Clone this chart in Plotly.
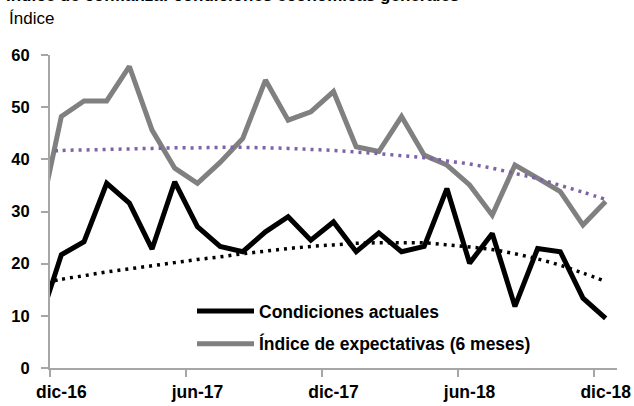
import plotly.graph_objects as go

# ---- data ----
months = ["nov-16", "dic-16", "ene-17", "feb-17", "mar-17", "abr-17", "may-17",
          "jun-17", "jul-17", "ago-17", "sep-17", "oct-17", "nov-17", "dic-17",
          "ene-18", "feb-18", "mar-18", "abr-18", "may-18", "jun-18", "jul-18",
          "ago-18", "sep-18", "oct-18", "nov-18", "dic-18"]
actuales = [8.3, 21.7, 24.2, 35.4, 31.6, 22.8, 35.7, 27.1, 23.3, 22.3, 26.1,
            29.0, 24.5, 28.0, 22.3, 25.9, 22.3, 23.3, 34.4, 20.1, 25.8, 11.8,
            22.9, 22.3, 13.4, 9.5]
expectativas = [27.8, 48.2, 51.2, 51.2, 57.8, 45.6, 38.3, 35.4, 39.4, 44.0,
                55.2, 47.5, 49.1, 53.0, 42.4, 41.5, 48.2, 40.8, 38.9, 35.1,
                29.3, 38.9, 36.4, 33.8, 27.4, 31.9]
# polynomial trend lines as drawn in the reference (read per month)
tendencia_act = [16.0, 17.0, 17.7, 18.4, 19.0, 19.6, 20.2, 20.8, 21.3, 21.9,
                 22.4, 22.9, 23.3, 23.6, 23.9, 24.0, 24.0, 24.0, 23.6, 23.2,
                 22.7, 21.9, 20.9, 19.7, 18.2, 16.6]
tendencia_exp = [41.4, 41.7, 41.8, 41.9, 42.0, 42.1, 42.2, 42.2, 42.3, 42.3,
                 42.2, 42.1, 41.9, 41.7, 41.4, 41.1, 40.7, 40.3, 39.7, 39.1,
                 38.3, 37.3, 36.3, 35.0, 33.7, 32.3]
tick_labels = ["dic-16", "jun-17", "dic-17", "jun-18", "dic-18"]
y_ticks = [0, 10, 20, 30, 40, 50, 60]
name_act = "Condiciones actuales"
name_exp = "Índice de expectativas (6 meses)"
title_text = "Índice de confianza: condiciones económicas generales"

# ---- layout constants ----
W, H = 634, 406
L, R, T, B = 50, 17, 55, 38
PW, PH = W - L - R, H - T - B
FONT = "Liberation Sans, Arial, sans-serif"
AXC = "#a6a6a6"

def px_x(p):
    return (p - L) / PW

def px_y(p):
    return 1 - (p - T) / PH

x = list(range(len(months)))
tickvals = [months.index(t) for t in tick_labels]
minor_vals = [v - 0.5 for v in tickvals]

fig = go.Figure()
fig.add_trace(go.Scatter(x=x, y=actuales, mode="lines", name=name_act,
                         legendgroup="a",
                         line=dict(color="#000000", width=5)))
fig.add_trace(go.Scatter(x=x, y=expectativas, mode="lines", name=name_exp,
                         legendgroup="b",
                         line=dict(color="#808080", width=5)))
fig.add_trace(go.Scatter(x=x, y=tendencia_act, mode="lines", showlegend=False,
                         line=dict(color="#000000", width=3.5, dash="3px,5px",
                                   shape="spline", smoothing=1)))
fig.add_trace(go.Scatter(x=x, y=tendencia_exp, mode="lines", showlegend=False,
                         line=dict(color="#7f62a6", width=3.5, dash="3px,5px",
                                   shape="spline", smoothing=1)))

fig.update_layout(
    width=W, height=H,
    margin=dict(l=L, r=R, t=T, b=B, autoexpand=False),
    paper_bgcolor="white", plot_bgcolor="white",
    font=dict(family=FONT, color="#000000"),
    legend=dict(x=px_x(192), y=px_y(293), xanchor="left", yanchor="top",
                bgcolor="rgba(0,0,0,0)", itemwidth=57, tracegroupgap=7,
                font=dict(size=17.5, family=FONT, weight="bold")),
    xaxis=dict(range=[tickvals[0] - 0.5, x[-1] + 0.5], showgrid=False, zeroline=False,
               automargin=False,
               showline=True, linecolor=AXC, linewidth=2,
               tickmode="array", tickvals=tickvals, ticktext=tick_labels,
               ticks="", ticklabelstandoff=7,
               tickfont=dict(size=17.5, family=FONT, weight="bold"),
               minor=dict(tickmode="array", tickvals=minor_vals, ticks="outside",
                          ticklen=7, tickwidth=2, tickcolor=AXC)),
    yaxis=dict(range=[0, 60], showgrid=False, zeroline=False,
               automargin=False,
               showline=True, linecolor=AXC, linewidth=2,
               tickmode="array", tickvals=y_ticks,
               ticks="outside", ticklen=7, tickwidth=2, tickcolor=AXC,
               ticklabelstandoff=8,
               tickfont=dict(size=16.5, family=FONT, weight="bold")),
)

fig.add_annotation(text="Índice", xref="paper", yref="paper",
                   x=px_x(7), y=px_y(7), xanchor="left", yanchor="top",
                   showarrow=False, font=dict(size=17, family=FONT))
fig.add_annotation(text="<b>" + title_text + "</b>", xref="paper", yref="paper",
                   x=px_x(4), y=px_y(7.5), xanchor="left", yanchor="bottom",
                   showarrow=False, font=dict(size=17, family=FONT))

fig.write_html("out.html",
               config={"displayModeBar": False},
               post_script="document.body.style.margin='0';"
                           "document.body.style.padding='0';")
